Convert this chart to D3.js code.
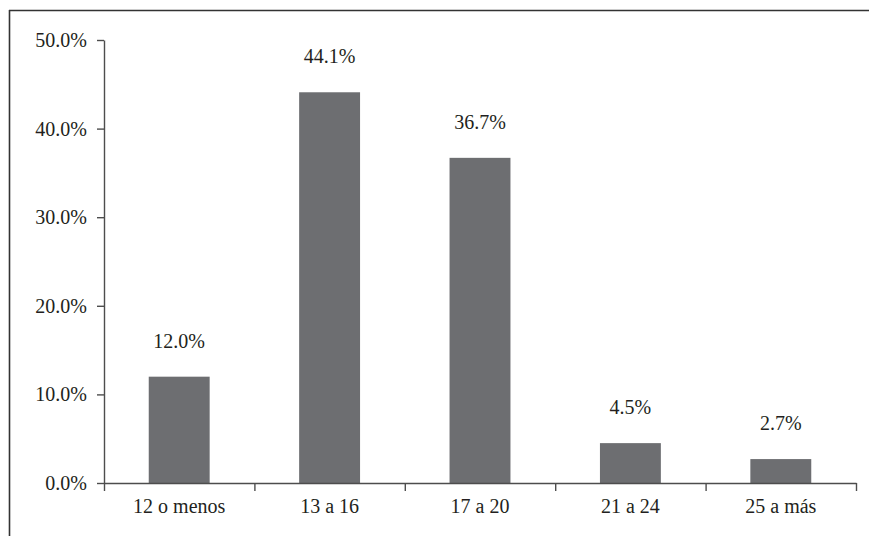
<!DOCTYPE html>
<html>
<head>
<meta charset="utf-8">
<script src="https://cdn.jsdelivr.net/npm/d3@7"></script>
<style>
  html, body { margin: 0; padding: 0; background: #fff; overflow: hidden; }
  svg { display: block; }
</style>
</head>
<body>
<script>
// Age groups and their shares (percent)
const categories = ["12 o menos", "13 a 16", "17 a 20", "21 a 24", "25 a más"];
const values = [12.0, 44.1, 36.7, 4.5, 2.7];
const yTicks = [0, 10, 20, 30, 40, 50];

const W = 869, H = 536;
const margin = { left: 104, right: 13, top: 40, bottom: 53 };
const serif = "'Liberation Serif', 'DejaVu Serif', 'Times New Roman', serif";
const textColor = "#231f20";

const svg = d3.select("body").append("svg")
  .attr("width", W).attr("height", H)
  .attr("font-family", serif);

// outer frame: only the left and top edges fall inside the page
const frame = svg.append("g").attr("stroke", "#333").attr("stroke-width", 1.6);
frame.append("line").attr("x1", 9.5).attr("x2", 9.5).attr("y1", 10).attr("y2", H);
frame.append("line").attr("x1", 9).attr("x2", W).attr("y1", 10.5).attr("y2", 10.5);

const x = d3.scaleBand()
  .domain(categories)
  .range([margin.left, W - margin.right])
  .padding(0);

const y = d3.scaleLinear()
  .domain([0, 50])
  .range([H - margin.bottom, margin.top]);

const axisColor = "#4d4d4d";
const fontSize = 20;

// y axis
const yAxis = svg.append("g")
  .attr("transform", `translate(${margin.left},0)`)
  .call(d3.axisLeft(y).tickValues(yTicks)
    .tickFormat(d => d.toFixed(1) + "%")
    .tickSize(7).tickSizeOuter(0).tickPadding(10));
yAxis.attr("font-family", serif).attr("font-size", fontSize);
yAxis.select(".domain").attr("stroke", axisColor).attr("stroke-width", 1.4);
yAxis.selectAll(".tick line").attr("stroke", axisColor).attr("stroke-width", 1.4);
yAxis.selectAll(".tick text").attr("fill", textColor);

// bars
const barFrac = 0.405;
svg.append("g").selectAll("rect")
  .data(values)
  .join("rect")
  .attr("x", (d, i) => x(categories[i]) + x.bandwidth() * (1 - barFrac) / 2)
  .attr("width", x.bandwidth() * barFrac)
  .attr("y", d => y(d))
  .attr("height", d => y(0) - y(d))
  .attr("fill", "#6d6e71");

// x axis: line with ticks at category boundaries
const boundaries = d3.range(categories.length + 1);
const xb = d3.scaleLinear().domain([0, categories.length])
  .range([margin.left, W - margin.right]);
const xAxis = svg.append("g")
  .attr("transform", `translate(0,${y(0)})`)
  .call(d3.axisBottom(xb).tickValues(boundaries).tickFormat("")
    .tickSize(8).tickSizeOuter(0));
xAxis.select(".domain").attr("stroke", axisColor).attr("stroke-width", 1.4);
xAxis.selectAll(".tick line").attr("stroke", axisColor).attr("stroke-width", 1.4);

// category labels
svg.append("g").selectAll("text")
  .data(categories)
  .join("text")
  .attr("x", d => x(d) + x.bandwidth() / 2)
  .attr("y", y(0) + 30)
  .attr("text-anchor", "middle")
  .attr("font-size", fontSize)
  .attr("fill", textColor)
  .text(d => d);

// value labels above bars
svg.append("g").selectAll("text")
  .data(values)
  .join("text")
  .attr("x", (d, i) => x(categories[i]) + x.bandwidth() / 2)
  .attr("y", d => y(d) - 29)
  .attr("text-anchor", "middle")
  .attr("font-size", fontSize)
  .attr("fill", textColor)
  .text(d => d.toFixed(1) + "%");
</script>
</body>
</html>
